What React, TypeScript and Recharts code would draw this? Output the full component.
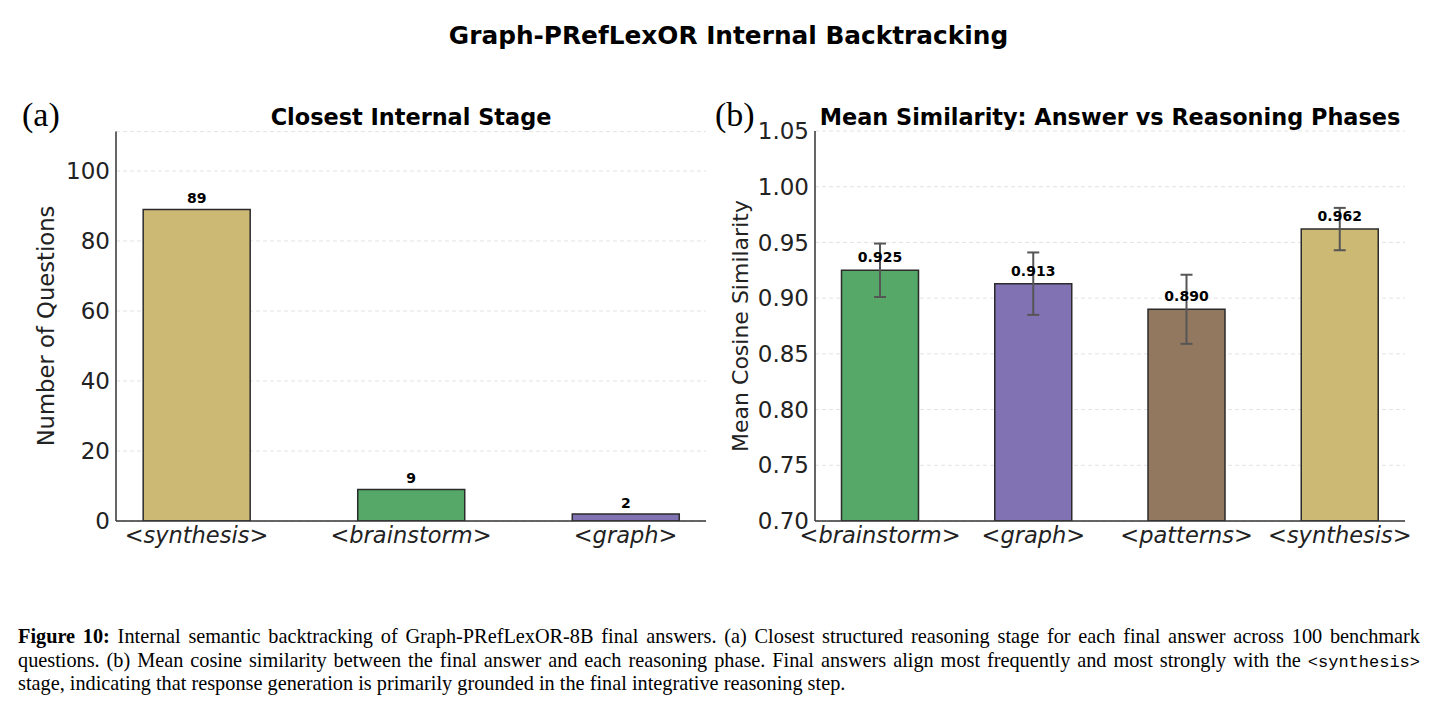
import React from "react";
import {
  BarChart, Bar, XAxis, YAxis, CartesianGrid, ErrorBar, LabelList, Cell,
} from "recharts";

// panel (a): closest internal stage
const STAGES_A = ["<synthesis>", "<brainstorm>", "<graph>"];
const COUNTS_A = [89, 9, 2];
const COLORS_A = ["#CCB974", "#55A868", "#8172B3"];
const TICKS_A = [0, 20, 40, 60, 80, 100];

// panel (b): mean similarity per phase
const PHASES_B = ["<brainstorm>", "<graph>", "<patterns>", "<synthesis>"];
const MEANS_B = [0.925, 0.913, 0.89, 0.962];
const ERR_B = [0.024, 0.028, 0.031, 0.019];
const COLORS_B = ["#55A868", "#8172B3", "#937860", "#CCB974"];
const TICKS_B = [0.7, 0.75, 0.8, 0.85, 0.9, 0.95, 1.0, 1.05];

const dataA = STAGES_A.map((s, i) => ({ idx: i, name: s, count: COUNTS_A[i] }));
const dataB = PHASES_B.map((s, i) => ({ idx: i, name: s, mean: MEANS_B[i], err: ERR_B[i] }));

const SANS = "'DejaVu Sans', sans-serif";
const SERIF = "'Liberation Serif', 'Times New Roman', serif";
const INK = "#222";
const SPINE = "#333";

const tickY = { fill: INK, fontSize: 23, fontFamily: SANS };
const tickX = { fill: INK, fontSize: 22.5, fontFamily: SANS, fontStyle: "italic" as const };

const abs = (x: number, y: number): React.CSSProperties => ({ position: "absolute", left: x, top: y });

function Caption() {
  const line: React.CSSProperties = {
    position: "absolute", left: 18, width: 1402, fontFamily: SERIF, fontSize: 20.3,
    color: "#000", whiteSpace: "nowrap", lineHeight: "22px",
  };
  const just: React.CSSProperties = { ...line, textAlign: "justify", textAlignLast: "justify", whiteSpace: "normal" };
  const mono: React.CSSProperties = { fontFamily: "'Liberation Mono', 'DejaVu Sans Mono', monospace", fontSize: 17 };
  return (
    <>
      <div style={{ ...just, top: 625 }}>
        <b>Figure 10:</b> Internal semantic backtracking of Graph-PRefLexOR-8B final answers. (a) Closest structured reasoning stage for each final answer across 100 benchmark
      </div>
      <div style={{ ...just, top: 649 }}>
        questions. (b) Mean cosine similarity between the final answer and each reasoning phase. Final answers align most frequently and most strongly with the <span style={mono}>&lt;synthesis&gt;</span>
      </div>
      <div style={{ ...line, top: 672 }}>
        stage, indicating that response generation is primarily grounded in the final integrative reasoning step.
      </div>
    </>
  );
}

export default function App() {
  return (
    <div style={{ position: "absolute", left: 0, top: 0, width: 1437, height: 709, background: "#fff", overflow: "hidden" }}>
      <div style={{ ...abs(10, 21), width: 1437, textAlign: "center", fontFamily: SANS, fontWeight: "bold", fontSize: 24.8, color: "#000" }}>
        Graph-PRefLexOR Internal Backtracking
      </div>

      {/* panel labels */}
      <div style={{ ...abs(22, 96), fontFamily: SERIF, fontSize: 34, color: "#000" }}>(a)</div>
      <div style={{ ...abs(715, 96), fontFamily: SERIF, fontSize: 34, color: "#000" }}>(b)</div>

      {/* panel titles */}
      <div style={{ ...abs(116, 104), width: 590, textAlign: "center", fontFamily: SANS, fontWeight: "bold", fontSize: 22.4, color: "#000" }}>
        Closest Internal Stage
      </div>
      <div style={{ ...abs(815, 104), width: 590, textAlign: "center", fontFamily: SANS, fontWeight: "bold", fontSize: 22.4, color: "#000", whiteSpace: "nowrap" }}>
        Mean Similarity: Answer vs Reasoning Phases
      </div>

      {/* y axis titles */}
      <div style={{ ...abs(46, 326), width: 0, height: 0 }}>
        <div style={{ position: "absolute", transform: "translate(-50%,-50%) rotate(-90deg)", whiteSpace: "nowrap", fontFamily: SANS, fontSize: 22.7, color: INK }}>
          Number of Questions
        </div>
      </div>
      <div style={{ ...abs(740, 326), width: 0, height: 0 }}>
        <div style={{ position: "absolute", transform: "translate(-50%,-50%) rotate(-90deg)", whiteSpace: "nowrap", fontFamily: SANS, fontSize: 22, color: INK }}>
          Mean Cosine Similarity
        </div>
      </div>

      {/* (a) */}
      <div style={abs(0, 0)}>
        <BarChart width={720} height={570} data={dataA} margin={{ top: 131.6, right: 14, bottom: 19, left: 56 }}>
          <CartesianGrid horizontal vertical={false} stroke="#e3e3e3" strokeDasharray="4 3" />
          <XAxis dataKey="idx" type="number" domain={[-0.375, 2.375]} ticks={[0, 1, 2]} allowDataOverflow
            tickFormatter={(i: number) => STAGES_A[i]} tick={tickX} tickLine={false} tickSize={0} tickMargin={6}
            axisLine={{ stroke: SPINE, strokeWidth: 1.5 }} height={30} interval={0} />
          <YAxis type="number" domain={[0, 111.25]} ticks={TICKS_A} allowDataOverflow tick={tickY} tickLine={false}
            tickSize={0} tickMargin={6} axisLine={{ stroke: SPINE, strokeWidth: 1.5 }} width={60} />
          <Bar dataKey="count" barSize={107} stroke="#2b2b2b" strokeWidth={1.5} isAnimationActive={false}>
            {dataA.map((d, i) => <Cell key={i} fill={COLORS_A[i]} />)}
            <LabelList dataKey="count" position="top" offset={6}
              style={{ fontFamily: SANS, fontWeight: "bold", fontSize: 14, fill: "#000" }} />
          </Bar>
        </BarChart>
      </div>

      {/* (b) */}
      <div style={abs(700, 0)}>
        <BarChart width={720} height={570} data={dataB} margin={{ top: 131, right: 15, bottom: 19, left: 55 }}>
          <CartesianGrid horizontal vertical={false} stroke="#e3e3e3" strokeDasharray="4 3" />
          <XAxis dataKey="idx" type="number" domain={[-0.425, 3.425]} ticks={[0, 1, 2, 3]} allowDataOverflow
            tickFormatter={(i: number) => PHASES_B[i]} tick={tickX} tickLine={false} tickSize={0} tickMargin={6}
            axisLine={{ stroke: SPINE, strokeWidth: 1.5 }} height={30} interval={0} />
          <YAxis type="number" domain={[0.7, 1.05]} ticks={TICKS_B} allowDataOverflow tick={tickY} tickLine={false}
            tickSize={0} tickMargin={6} axisLine={{ stroke: SPINE, strokeWidth: 1.5 }} width={60}
            tickFormatter={(v: number) => v.toFixed(2)} />
          <Bar dataKey="mean" barSize={77} stroke="#2b2b2b" strokeWidth={1.5} isAnimationActive={false}>
            {dataB.map((d, i) => <Cell key={i} fill={COLORS_B[i]} />)}
            <LabelList dataKey="mean" position="top" offset={8} formatter={(v: number) => v.toFixed(3)}
              style={{ fontFamily: SANS, fontWeight: "bold", fontSize: 14, fill: "#000" }} />
            <ErrorBar dataKey="err" width={6} stroke="#555" strokeWidth={2} direction="y" isAnimationActive={false} />
          </Bar>
        </BarChart>
      </div>

      <Caption />
    </div>
  );
}
